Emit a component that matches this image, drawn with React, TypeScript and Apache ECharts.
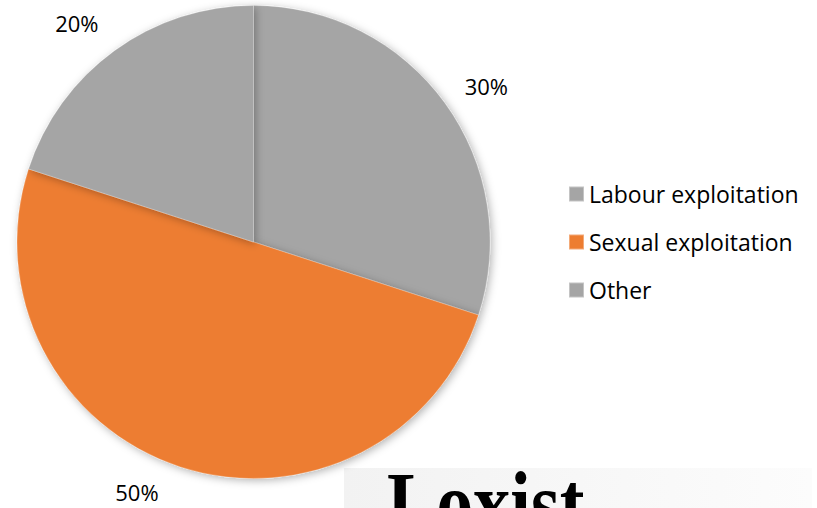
import React, { useEffect, useRef } from "react";
import * as echarts from "echarts";

const categories = ["Labour exploitation", "Sexual exploitation", "Other"];
const values = [30, 50, 20];
const colors = ["#a5a5a5", "#ed7d31", "#a5a5a5"];
const watermarkText = "Loxist";

// small nudges of the percent labels (dx, dy)
const labelNudges = [
  [-3, -4],
  [-10, 4],
  [2, -10],
];

export default function App() {
  const ref = useRef<HTMLDivElement>(null);
  useEffect(() => {
    document.body.style.margin = "0";
    const chart = echarts.init(ref.current!, null, { renderer: "svg" });
    const font = "'Open Sans', 'Noto Sans', sans-serif";
    chart.setOption({
      animation: false,
      backgroundColor: "#ffffff",
      legend: {
        orient: "vertical",
        left: 568,
        top: 182.5,
        padding: 0,
        icon: "rect",
        itemWidth: 15,
        itemHeight: 15,
        itemGap: 25,
        textStyle: { fontSize: 23, color: "#000", fontFamily: font },
        data: categories,
      },
      graphic: [
        {
          type: "rect",
          shape: { x: 344, y: 468, width: 468, height: 40 },
          style: {
            fill: new echarts.graphic.LinearGradient(0, 0, 1, 0, [
              { offset: 0, color: "#f2f2f2" },
              { offset: 1, color: "#fcfcfc" },
            ]),
          },
          z: -1,
        },
        {
          type: "text",
          x: 387,
          y: 460,
          scaleY: 1.19,
          style: {
            text: watermarkText,
            font: "bold 74px 'Liberation Serif', serif",
            fill: "#000",
            verticalAlign: "top",
          },
        },
      ],
      series: [
        {
          type: "pie",
          center: [253.5, 242],
          radius: 236.5,
          startAngle: 90,
          clockwise: true,
          data: categories.map((c, i) => ({
            name: c,
            value: values[i],
            itemStyle: { color: colors[i] },
          })),
          itemStyle: {
            borderColor: "rgba(255,255,255,0.35)",
            borderWidth: 0.6,
            shadowBlur: 8,
            shadowColor: "rgba(0,0,0,0.3)",
            shadowOffsetX: 2,
            shadowOffsetY: 2,
          },
          label: {
            show: true,
            position: "outside",
            formatter: "{c}%",
            fontSize: 22,
            color: "#000",
            fontFamily: font,
          },
          labelLine: { show: false, length: 22, length2: 0 },
          labelLayout: (params: any) => {
            const n = labelNudges[params.dataIndex] || [0, 0];
            return { dx: n[0], dy: n[1] };
          },
          emphasis: { disabled: true },
        },
      ],
    });
    return () => chart.dispose();
  }, []);
  return <div ref={ref} style={{ width: 817, height: 508 }} />;
}
